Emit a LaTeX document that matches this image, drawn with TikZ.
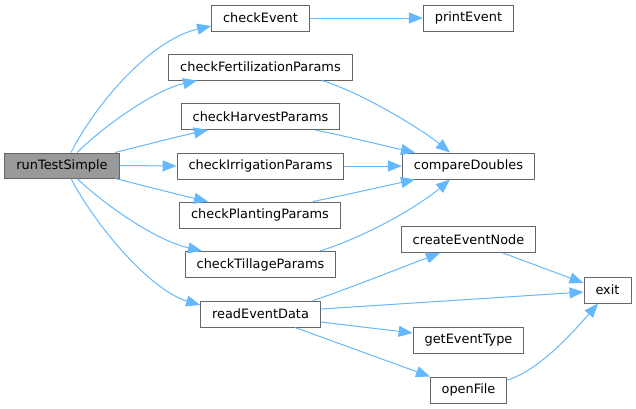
\documentclass[tikz,border=0pt]{standalone}
\usepackage{fontspec}
\setmainfont{DejaVu Sans}
\usetikzlibrary{arrows.meta}
\definecolor{edgeblue}{HTML}{63B8FF}
\definecolor{boxgray}{HTML}{666666}
\definecolor{fillgray}{HTML}{999999}
\begin{document}
\begin{tikzpicture}[x=1pt,y=-1pt,
  fn/.style={draw=boxgray,line width=1pt,fill=white,minimum height=26pt,inner xsep=11.5pt,inner ysep=0pt,font=\fontsize{12.9}{15}\selectfont},
  root/.style={fn,fill=fillgray,minimum height=25pt},
  call/.style={draw=edgeblue,line width=1pt,-{Triangle[length=14pt,width=11pt,fill=edgeblue]}}]
\useasboundingbox (0,0) rectangle (636,408);
\node[root] (rts) at (62,165.5) {runTestSimple};
\node[fn] (ce)  at (260.5,18) {checkEvent};
\node[fn] (pe)  at (468.5,18) {printEvent};
\node[fn] (cfp) at (260.5,67) {checkFertilizationParams};
\node[fn] (chp) at (260.5,116.5) {checkHarvestParams};
\node[fn] (cip) at (260.5,166) {checkIrrigationParams};
\node[fn] (cpp) at (260,215) {checkPlantingParams};
\node[fn] (ctp) at (260.5,264.5) {checkTillageParams};
\node[fn] (red) at (260.5,314) {readEventData};
\node[fn] (cd)  at (468.5,166) {compareDoubles};
\node[fn] (cen) at (468.5,239.5) {createEventNode};
\node[fn] (ex)  at (607.5,290) {exit};
\node[fn] (get) at (468.5,340) {getEventType};
\node[fn] (of)  at (468.5,390) {openFile};
% edges from runTestSimple
\draw[call] ([xshift=9pt]rts.north) .. controls (95,105) and (150,40) .. ([yshift=-8pt]ce.west);
\draw[call] ([xshift=15pt]rts.north) .. controls (105,125) and (155,90) .. ([xshift=-63.5pt]cfp.south);
\draw[call] ([xshift=53pt]rts.north) .. controls (145,145) and (180,136) .. ([xshift=-52.5pt]chp.south);
\draw[call] (rts.east) -- (cip.west);
\draw[call] ([xshift=53pt]rts.south) .. controls (145,186) and (180,195) .. ([xshift=-52pt]cpp.north);
\draw[call] ([xshift=15pt]rts.south) .. controls (105,205) and (155,240) .. ([xshift=-58.5pt]ctp.north);
\draw[call] ([xshift=9pt]rts.south) .. controls (95,225) and (150,290) .. ([yshift=9pt]red.west);
% other edges
\draw[call] (ce.east) -- (pe.west);
\draw[call] ([xshift=61.5pt]cfp.south) .. controls (360,92) and (420,128) .. ([xshift=-18.5pt]cd.north);
\draw[call] ([xshift=54.5pt]chp.south) .. controls (350,137) and (385,146) .. ([xshift=-53.5pt]cd.north);
\draw[call] (cip.east) -- (cd.west);
\draw[call] ([xshift=53pt]cpp.north) .. controls (350,194) and (385,186) .. ([xshift=-53.5pt]cd.south);
\draw[call] ([xshift=59.5pt]ctp.north) .. controls (370,235) and (420,205) .. ([xshift=-18.5pt]cd.south);
\draw[call] ([xshift=52.5pt]red.north) .. controls (345,290) and (400,268) .. ([xshift=-28.5pt]cen.south);
\draw[call] ([yshift=5pt]red.east) -- ([yshift=-2pt]ex.west);
\draw[call] ([yshift=-8pt]red.east) -- ([yshift=7pt]get.west);
\draw[call] ([xshift=34.5pt]red.south) -- ([xshift=-38.5pt]of.north);
\draw[call] ([xshift=34.5pt]cen.south) -- ([yshift=7pt]ex.west);
\draw[call] ([yshift=10pt]of.east) .. controls (540,370) and (575,330) .. ([xshift=-9.5pt]ex.south);
\end{tikzpicture}
\end{document}
